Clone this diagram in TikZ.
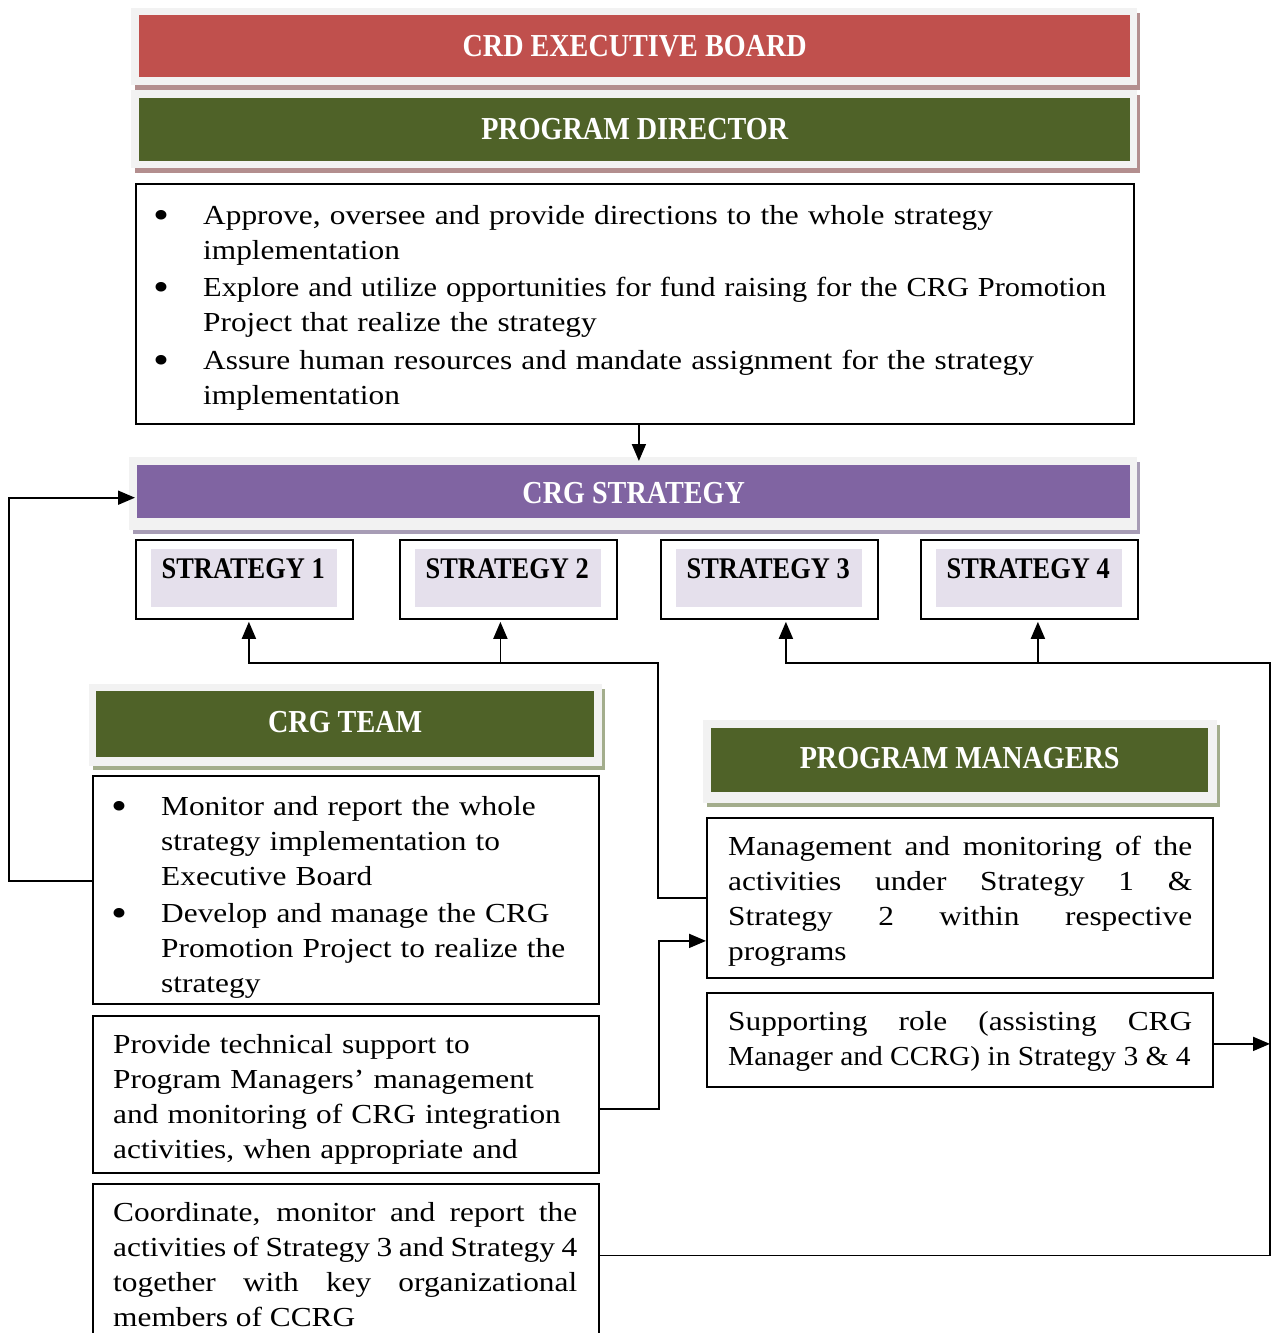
\documentclass[tikz,border=0pt]{standalone}
\usepackage{fontspec}
\usepackage{graphicx}
\setmainfont{Liberation Serif}[FakeStretch=1.14]
\newfontfamily\hfont{Liberation Serif Bold}[FakeStretch=0.88]
\usetikzlibrary{arrows.meta,calc}
\definecolor{ebred}{HTML}{C0504D}
\definecolor{pdgreen}{HTML}{4F6228}
\definecolor{cspurple}{HTML}{8064A2}
\definecolor{lav}{HTML}{E5E0EC}
\definecolor{framegray}{HTML}{F2F2F2}
\definecolor{shred}{HTML}{B38E8E}
\definecolor{shgreen}{HTML}{A3AD8C}
\definecolor{shpurple}{HTML}{A79CB5}
\newcommand\bul{\makebox[48pt][l]{\hspace*{-2pt}\raisebox{-4pt}{\fontsize{40}{35}\selectfont\textbullet}}}
\tikzset{
  body/.style={font=\fontsize{27.5}{35}\selectfont, inner sep=0pt, anchor=base west, align=left},
  jbody/.style={font=\fontsize{27.5}{35}\selectfont, inner sep=0pt, anchor=base west, text width=464pt, align=justify},
  head/.style={font=\hfont\fontsize{32}{38}\selectfont, text=white, inner sep=0pt},
  slabel/.style={font=\hfont\fontsize{30}{36}\selectfont, text=black, inner sep=0pt},
  box/.style={draw=black, line width=1.8pt, fill=white, inner sep=0pt, anchor=north west},
  panel/.style={inner sep=0pt, anchor=north west},
  arr/.style={line width=1.8pt, -{Triangle[length=17pt,width=14pt]}},
}
\begin{document}
\begin{tikzpicture}[x=1pt,y=-1pt]
\clip (0,0) rectangle (1273,1333);
\fill[white] (0,0) rectangle (1273,1333);

% CRD EXECUTIVE BOARD
\fill[shred] (135,13) rectangle (1140,90);
\node[panel, fill=framegray, minimum width=1006pt, minimum height=77pt] (ebf) at (131,8) {};
\node[panel, fill=ebred, minimum width=991pt, minimum height=62pt] (eb) at (139,15) {};
\node[head] (ebt) at (eb.center) {CRD EXECUTIVE BOARD};

% PROGRAM DIRECTOR
\fill[shred] (135,95) rectangle (1140,173);
\node[panel, fill=framegray, minimum width=1006pt, minimum height=78pt] (pdf) at (131,90) {};
\node[panel, fill=pdgreen, minimum width=991pt, minimum height=63pt] (pd) at (139,98) {};
\node[head] (pdt) at ([yshift=1pt]pd.center) {PROGRAM DIRECTOR};

% Director duties
\node[box, minimum width=998pt, minimum height=240pt] (dir) at (135,183) {};
\node[body, text width=1100pt] (dirt) at (155,224) {\bul Approve, oversee and provide directions to the whole strategy\\
\hspace*{48pt}implementation\\[2pt]
\bul \scalebox{0.97}[1]{Explore and utilize opportunities for fund raising for the CRG Promotion}\\
\hspace*{48pt}Project that realize the strategy\\[3pt]
\bul Assure human resources and mandate assignment for the strategy\\
\hspace*{48pt}implementation};

% CRG STRATEGY
\fill[shpurple] (133,462) rectangle (1140,534);
\node[panel, fill=framegray, minimum width=1008pt, minimum height=73pt] (csf) at (129,457) {};
\node[panel, fill=cspurple, minimum width=993pt, minimum height=53pt] (cs) at (137,465) {};
\node[head] (cst) at ([yshift=-1pt]cs.center) {CRG STRATEGY};

% Strategies
\foreach \i/\x in {1/135,2/399,3/660,4/920} {
  \node[box, minimum width=217pt, minimum height=79pt] (s\i) at (\x,539) {};
  \node[panel, fill=lav, minimum width=186pt, minimum height=58pt] (s\i i) at (\x+16,549) {};
  \node[slabel, anchor=base] (s\i t) at ($(s\i i.north)+(-1,29)$) {STRATEGY \i};
}

% CRG TEAM
\fill[shgreen] (93,689) rectangle (605,770);
\node[panel, fill=framegray, minimum width=513pt, minimum height=82pt] (ctf) at (89,684) {};
\node[panel, fill=pdgreen, minimum width=498pt, minimum height=66pt] (ct) at (96,691) {};
\node[head] (ctt) at ([yshift=2pt]ct.center) {CRG TEAM};

\node[box, minimum width=506pt, minimum height=228pt] (cb1) at (92,775) {};
\node[body, text width=500pt] (cb1t) at (113,815) {\bul Monitor and report the whole\\
\hspace*{48pt}strategy implementation to\\
\hspace*{48pt}Executive Board\\[2pt]
\bul Develop and manage the CRG\\
\hspace*{48pt}Promotion Project to realize the\\
\hspace*{48pt}strategy};

\node[box, minimum width=506pt, minimum height=157pt] (cb2) at (92,1015) {};
\node[body, text width=500pt] (cb2t) at (113,1053) {Provide technical support to\\
Program Managers’ management\\
and monitoring of CRG integration\\
activities, when appropriate and};

\node[box, minimum width=506pt, minimum height=160pt] (cb3) at (92,1183) {};
\node[jbody] (cb3t) at (113,1221) {Coordinate, monitor and report the\linebreak
activities of Strategy 3 and Strategy 4\linebreak
together with key organizational\linebreak
members of CCRG};

% PROGRAM MANAGERS
\fill[shgreen] (707,725) rectangle (1220,807);
\node[panel, fill=framegray, minimum width=514pt, minimum height=83pt] (pmf) at (703,720) {};
\node[panel, fill=pdgreen, minimum width=497pt, minimum height=64pt] (pm) at (711,728) {};
\node[head] (pmt) at ([yshift=2pt]pm.center) {PROGRAM MANAGERS};

\node[box, minimum width=506pt, minimum height=160pt] (pm1) at (706,817) {};
\node[jbody] (pm1t) at (728,855) {Management and monitoring of the\linebreak
activities under Strategy 1 \&\linebreak
Strategy 2 within respective\linebreak
programs};

\node[box, minimum width=506pt, minimum height=94pt] (pm2) at (706,992) {};
\node[jbody] (pm2t) at (728,1030) {Supporting role (assisting CRG\linebreak
\scalebox{0.94}[1]{Manager and CCRG) in Strategy 3 \& 4}};

% Connectors
\coordinate (j12) at (658,663);
\coordinate (j34) at (1270,663);
\draw[arr] ([xshift=4pt]dir.south) -- ([xshift=4pt,yshift=-4pt]dir.south |- csf.north);
\draw[arr] ([yshift=9pt]cb1.west) -- ++(-83,0) |- ([xshift=6pt,yshift=-4pt]csf.west);
\draw[arr] (pm1.west) -| (j12) -| ([xshift=4.5pt,yshift=-2pt]s1.south);
\draw[arr] ([xshift=-8pt]s2.south |- j12) -- ([xshift=-8pt,yshift=-2pt]s2.south);
\draw[arr] ([yshift=-14.5pt]cb2.east) -- ++(59,0) |- ([yshift=-43pt]pm1.west);
\draw[arr] ([yshift=8.5pt]cb3.east) -| (j34) -| ([xshift=16.5pt,yshift=-2pt]s3.south);
\draw[arr] ([xshift=8.5pt]s4.south |- j34) -- ([xshift=8.5pt,yshift=-2pt]s4.south);
\draw[arr] ([yshift=-4pt]pm2.east) -- ([yshift=-4pt]pm2.east -| j34);
\end{tikzpicture}
\end{document}
